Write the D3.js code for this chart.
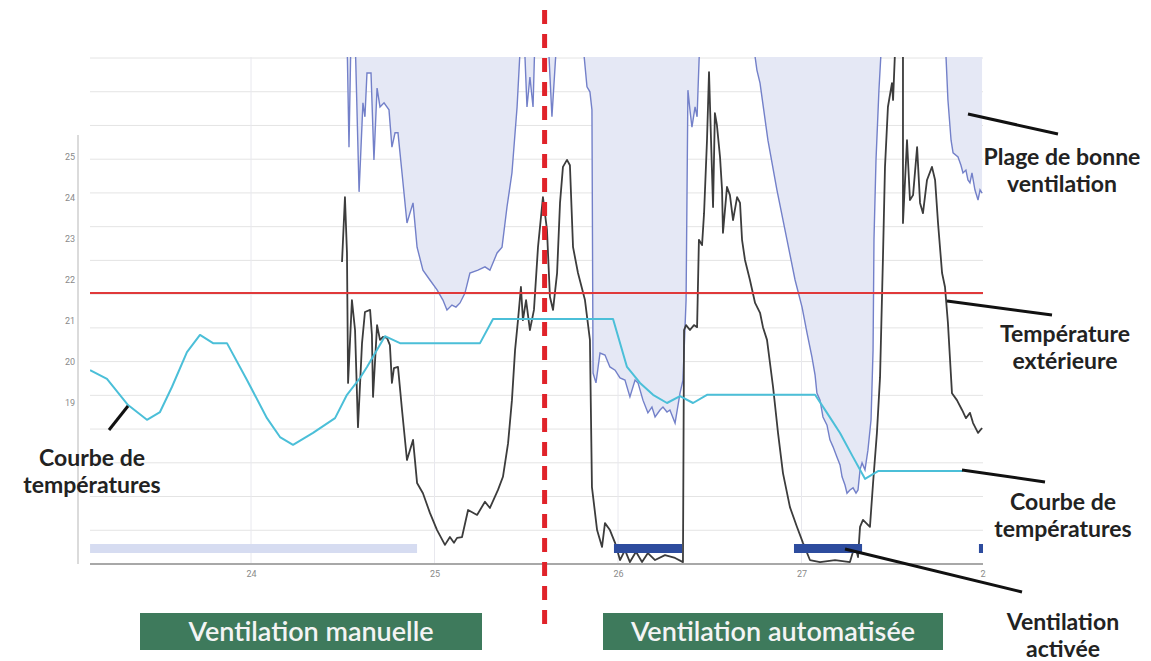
<!DOCTYPE html>
<html>
<head>
<meta charset="utf-8">
<script src="https://cdn.jsdelivr.net/npm/d3@7"></script>
<style>
  body { margin: 0; background: #fff; }
  svg { display: block; }
</style>
</head>
<body>
<svg id="chart" width="1151" height="661"></svg>
<script>
// === Data (x = day of month, y = °C) ===
const dayTicks = [24, 25, 26, 27, 28];
const tempTicks = [19, 20, 21, 22, 23, 24, 25];

const outdoorTemp = 21.68;     // red horizontal line
const switchDay = 25.6;        // manual -> automatic

// Courbe de températures (cyan)
const setpointCurve = [
  [23.123, 19.80], [23.215, 19.59], [23.330, 18.95], [23.433, 18.59], [23.504, 18.78],
  [23.569, 19.39], [23.651, 20.24], [23.722, 20.66], [23.793, 20.46], [23.869, 20.46],
  [23.978, 19.56], [24.087, 18.63], [24.158, 18.17], [24.229, 17.98], [24.338, 18.27],
  [24.458, 18.63], [24.523, 19.20], [24.594, 19.61], [24.632, 19.88], [24.730, 20.63],
  [24.812, 20.46], [25.248, 20.46], [25.319, 21.05], [25.973, 21.05], [26.049, 19.88],
  [26.120, 19.49], [26.191, 19.20], [26.267, 19.00], [26.338, 19.17], [26.409, 19.00],
  [26.485, 19.20], [27.074, 19.20], [27.139, 18.76], [27.210, 18.27], [27.281, 17.68],
  [27.346, 17.15], [27.417, 17.34], [27.880, 17.34]
];

// measured temperature (black)
const measured = [
  [24.496, 22.44], [24.512, 24.02], [24.523, 22.66], [24.529, 19.49], [24.550, 21.51],
  [24.567, 20.78], [24.583, 18.41], [24.605, 20.46], [24.621, 21.22], [24.649, 21.27],
  [24.659, 20.66], [24.665, 19.15], [24.687, 20.90], [24.703, 20.54], [24.719, 20.61],
  [24.741, 20.59], [24.757, 20.41], [24.768, 19.49], [24.779, 19.85], [24.801, 19.88],
  [24.823, 18.83], [24.850, 17.61], [24.883, 18.10], [24.905, 17.05], [24.937, 16.80],
  [24.975, 16.32], [25.014, 15.90], [25.057, 15.54], [25.084, 15.73], [25.106, 15.59],
  [25.123, 15.71], [25.150, 15.73], [25.183, 16.39], [25.232, 16.27], [25.275, 16.59],
  [25.302, 16.44], [25.346, 16.88], [25.373, 17.20], [25.401, 18.02], [25.422, 19.07],
  [25.439, 20.29], [25.455, 21.02], [25.471, 21.83], [25.482, 21.02], [25.499, 21.51],
  [25.520, 20.78], [25.542, 21.27], [25.564, 22.80], [25.591, 24.02], [25.613, 23.22],
  [25.629, 21.59], [25.646, 21.27], [25.668, 22.17], [25.684, 23.88], [25.700, 24.76],
  [25.722, 24.93], [25.738, 24.80], [25.755, 22.80], [25.782, 22.17], [25.820, 21.51],
  [25.847, 20.54], [25.858, 16.95], [25.886, 15.90], [25.913, 15.49], [25.929, 16.07],
  [25.956, 15.90], [25.984, 15.59], [26.011, 15.17], [26.038, 15.41], [26.065, 15.12],
  [26.098, 15.37], [26.131, 15.12], [26.163, 15.34], [26.202, 15.17], [26.256, 15.29],
  [26.311, 15.22], [26.354, 15.12], [26.360, 20.78], [26.371, 20.90], [26.392, 20.78],
  [26.414, 20.90], [26.431, 20.85], [26.441, 22.98], [26.458, 22.85], [26.469, 23.63],
  [26.485, 25.41], [26.496, 27.07], [26.507, 25.41], [26.518, 23.78], [26.528, 26.07],
  [26.539, 25.78], [26.556, 25.00], [26.567, 24.20], [26.572, 23.15], [26.594, 24.27],
  [26.610, 24.07], [26.627, 23.46], [26.649, 24.02], [26.665, 23.88], [26.676, 22.98],
  [26.692, 22.49], [26.719, 22.00], [26.747, 21.44], [26.774, 21.20], [26.790, 20.85],
  [26.812, 20.54], [26.845, 19.39], [26.872, 18.27], [26.899, 17.29], [26.937, 16.46],
  [26.975, 15.98], [27.008, 15.59], [27.046, 15.17], [27.101, 15.12], [27.183, 15.17],
  [27.264, 15.12], [27.292, 15.54], [27.308, 15.24], [27.319, 15.98], [27.335, 16.15],
  [27.373, 15.98], [27.390, 17.05], [27.411, 18.27], [27.428, 19.63], [27.444, 22.56],
  [27.455, 24.76], [27.471, 26.22], [27.493, 26.80], [27.499, 26.39], [27.510, 27.61],
  [27.553, 27.61], [27.553, 23.39], [27.575, 25.41], [27.591, 23.95], [27.608, 24.07],
  [27.630, 25.24], [27.646, 23.88], [27.662, 23.63], [27.684, 24.44], [27.711, 24.76],
  [27.728, 24.44], [27.744, 23.39], [27.766, 22.17], [27.782, 21.83], [27.798, 20.95],
  [27.820, 19.24], [27.847, 19.07], [27.875, 18.83], [27.896, 18.63], [27.918, 18.76],
  [27.935, 18.51], [27.962, 18.27], [27.984, 18.39]
];

// Plage de bonne ventilation: lower limit, 4 pieces (28 = off the top)
const rangeA = [
  [24.523, 28], [24.534, 25.24], [24.545, 28], [24.567, 28], [24.589, 24.15],
  [24.610, 26.32], [24.621, 25.98], [24.632, 27.05], [24.654, 27.05], [24.670, 24.93],
  [24.687, 26.68], [24.703, 26.22], [24.725, 26.32], [24.752, 26.15], [24.768, 25.24],
  [24.785, 25.59], [24.801, 25.59], [24.823, 24.61], [24.850, 23.39], [24.883, 23.88],
  [24.905, 22.80], [24.937, 22.24], [24.975, 22.00], [25.014, 21.76], [25.046, 21.51],
  [25.068, 21.27], [25.095, 21.39], [25.117, 21.34], [25.139, 21.44], [25.166, 21.68],
  [25.193, 22.17], [25.237, 22.24], [25.275, 22.32], [25.302, 22.24], [25.341, 22.66],
  [25.368, 22.80], [25.395, 23.78], [25.422, 24.61], [25.450, 26.22], [25.471, 28],
  [25.488, 28], [25.504, 26.22], [25.520, 26.95], [25.537, 26.22], [25.548, 28],
  [25.618, 28], [25.640, 25.98], [25.668, 28]
];
const rangeB = [
  [25.804, 28], [25.831, 26.71], [25.847, 26.59], [25.858, 26.15], [25.864, 19.73],
  [25.880, 19.49], [25.902, 20.22], [25.929, 20.17], [25.956, 19.88], [25.984, 19.80],
  [26.011, 19.61], [26.038, 19.56], [26.065, 19.15], [26.093, 19.56], [26.109, 19.49],
  [26.136, 19.07], [26.163, 18.76], [26.185, 18.90], [26.202, 18.66], [26.229, 18.83],
  [26.245, 18.90], [26.267, 18.78], [26.283, 18.83], [26.311, 18.51], [26.338, 19.24],
  [26.354, 19.56], [26.371, 21.51], [26.381, 26.63], [26.392, 26.15], [26.403, 25.73],
  [26.420, 26.22], [26.431, 25.98], [26.436, 26.63], [26.447, 28]
];
const rangeC = [
  [26.730, 28], [26.757, 27.12], [26.774, 26.80], [26.817, 25.41], [26.866, 24.20],
  [26.921, 22.98], [26.965, 22.00], [27.003, 21.34], [27.030, 20.71], [27.057, 20.12],
  [27.074, 19.68], [27.084, 19.24], [27.101, 19.07], [27.117, 18.66], [27.139, 18.46],
  [27.155, 18.10], [27.172, 17.93], [27.193, 17.68], [27.210, 17.49], [27.221, 17.20],
  [27.237, 17.00], [27.248, 16.80], [27.264, 16.88], [27.281, 16.93], [27.297, 16.80],
  [27.308, 16.88], [27.319, 17.37], [27.330, 17.54], [27.346, 17.37], [27.362, 17.85],
  [27.379, 18.59], [27.390, 20.29], [27.395, 22.98], [27.406, 24.93], [27.422, 26.63],
  [27.439, 28]
];
const rangeD = [
  [27.782, 28], [27.798, 26.39], [27.815, 25.41], [27.826, 25.10], [27.853, 25.00],
  [27.869, 24.80], [27.880, 24.61], [27.896, 24.68], [27.907, 24.44], [27.918, 24.37],
  [27.929, 24.61], [27.945, 24.20], [27.962, 23.95], [27.973, 24.20], [27.984, 24.12]
];

// ventilation periods [start, end]
const manualPeriods = [[23.123, 24.905]];
const autoPeriods = [[25.978, 26.349], [26.959, 27.330], [27.967, 27.99]];

// === Layout ===
const svg = d3.select("#chart");
const plot = { left: 90, right: 983, top: 57, bottom: 564 };

const x = d3.scaleLinear().domain([24, 28]).range([251, 985]);
const y = d3.scaleLinear().domain([19, 25]).range([403, 157]);
const grid = d3.scaleLinear().domain([0, 15]).range([58, 564]);

svg.append("defs").append("clipPath").attr("id", "plotClip")
  .append("rect").attr("x", plot.left).attr("y", plot.top)
  .attr("width", plot.right - plot.left).attr("height", plot.bottom - plot.top);

// gridlines
svg.append("g").selectAll("line").data(d3.range(0, 15)).enter().append("line")
  .attr("x1", plot.left).attr("x2", plot.right)
  .attr("y1", d => grid(d)).attr("y2", d => grid(d))
  .attr("stroke", "#e4e4e4").attr("stroke-width", 1);
svg.append("g").selectAll("line").data(dayTicks.slice(0, 4)).enter().append("line")
  .attr("x1", d => x(d)).attr("x2", d => x(d))
  .attr("y1", plot.top).attr("y2", plot.bottom)
  .attr("stroke", "#e8e8ee").attr("stroke-width", 1);

const body = svg.append("g").attr("clip-path", "url(#plotClip)");

// good ventilation range
const area = d3.area().x(d => x(d[0])).y0(plot.top - 5).y1(d => y(d[1]));
const line = d3.line().x(d => x(d[0])).y(d => y(d[1]));
[rangeA, rangeB, rangeC, rangeD].forEach(seg => {
  body.append("path").datum(seg).attr("d", area).attr("fill", "#e5e8f5");
  body.append("path").datum(seg).attr("d", line)
    .attr("fill", "none").attr("stroke", "#7380c9").attr("stroke-width", 1.4);
});

// measured temperature
body.append("path").datum(measured).attr("d", line)
  .attr("fill", "none").attr("stroke", "#3c3c3c").attr("stroke-width", 1.8)
  .attr("stroke-linejoin", "round");

// ventilation bars
body.selectAll(".manual").data(manualPeriods).enter().append("rect")
  .attr("x", d => x(d[0])).attr("width", d => x(d[1]) - x(d[0]))
  .attr("y", 544).attr("height", 9).attr("fill", "#d6dcf1");
body.selectAll(".auto").data(autoPeriods).enter().append("rect")
  .attr("x", d => x(d[0])).attr("width", d => x(d[1]) - x(d[0]))
  .attr("y", 544).attr("height", 9).attr("fill", "#2d4c9e");

// setpoint curve
body.append("path").datum(setpointCurve).attr("d", line)
  .attr("fill", "none").attr("stroke", "#4bbfd8").attr("stroke-width", 2)
  .attr("stroke-linejoin", "round");

// outdoor temperature
svg.append("line")
  .attr("x1", plot.left).attr("x2", plot.right)
  .attr("y1", y(outdoorTemp)).attr("y2", y(outdoorTemp))
  .attr("stroke", "#e0393a").attr("stroke-width", 2);

// axes
svg.append("line").attr("x1", plot.left).attr("x2", plot.right)
  .attr("y1", plot.bottom).attr("y2", plot.bottom)
  .attr("stroke", "#a8a8a8").attr("stroke-width", 2);
svg.append("line").attr("x1", 78).attr("x2", 78)
  .attr("y1", 135).attr("y2", plot.bottom)
  .attr("stroke", "#cfcfcf").attr("stroke-width", 1.5);

svg.append("clipPath").attr("id", "axisClip").append("rect")
  .attr("x", 0).attr("y", 0).attr("width", 986).attr("height", 661);

const xAxis = svg.append("g").attr("clip-path", "url(#axisClip)")
  .attr("transform", `translate(0,${plot.bottom + 4})`)
  .call(d3.axisBottom(x).tickValues(dayTicks).tickSize(0).tickFormat(d3.format("d")));
xAxis.select(".domain").remove();
xAxis.selectAll("text").attr("fill", "#8a8a8a").style("font-family", "Roboto, sans-serif").style("font-size", "9px");

const yAxis = svg.append("g").attr("transform", "translate(75,0)")
  .call(d3.axisLeft(y).tickValues(tempTicks).tickSize(0).tickPadding(0).tickFormat(d3.format("d")));
yAxis.select(".domain").remove();
yAxis.selectAll("text").attr("fill", "#8a8a8a").style("font-family", "Roboto, sans-serif").style("font-size", "9px");

// manual / automatic divider
svg.append("line").attr("x1", x(switchDay)).attr("x2", x(switchDay))
  .attr("y1", 10).attr("y2", 632)
  .attr("stroke", "#e0232a").attr("stroke-width", 5).attr("stroke-dasharray", "14,10");

// mode boxes
const modes = [
  { label: "Ventilation manuelle", x0: 140, x1: 482 },
  { label: "Ventilation automatisée", x0: 603, x1: 943 }
];
modes.forEach(m => {
  svg.append("rect").attr("x", m.x0).attr("y", 613).attr("width", m.x1 - m.x0).attr("height", 37)
    .attr("fill", "#3e7a5c");
  svg.append("text").attr("x", (m.x0 + m.x1) / 2).attr("y", 641)
    .attr("text-anchor", "middle").attr("fill", "#f4f4f4")
    .style("font-family", "Lato, sans-serif").style("font-weight", "600").style("font-size", "27px")
    .text(m.label);
});

// annotations
const notes = [
  { lines: ["Plage de bonne", "ventilation"], tx: 1062, ty: 165, from: [968, 114], to: [1058, 134] },
  { lines: ["Température", "extérieure"], tx: 1065, ty: 342, from: [947, 301], to: [1052, 315] },
  { lines: ["Courbe de", "températures"], tx: 1063, ty: 510, from: [962, 470], to: [1045, 482] },
  { lines: ["Ventilation", "activée"], tx: 1063, ty: 630, from: [845, 549], to: [1022, 592] },
  { lines: ["Courbe de", "températures"], tx: 92, ty: 466, from: [128, 406], to: [109, 430] }
];
notes.forEach(n => {
  svg.append("line").attr("x1", n.from[0]).attr("y1", n.from[1])
    .attr("x2", n.to[0]).attr("y2", n.to[1])
    .attr("stroke", "#111").attr("stroke-width", 3);
  const t = svg.append("text").attr("text-anchor", "middle").attr("fill", "#222")
    .style("font-family", "Lato, sans-serif").style("font-weight", "700").style("font-size", "23px");
  n.lines.forEach((s, i) => {
    t.append("tspan").attr("x", n.tx).attr("y", n.ty + i * 27).text(s);
  });
});
</script>
</body>
</html>
